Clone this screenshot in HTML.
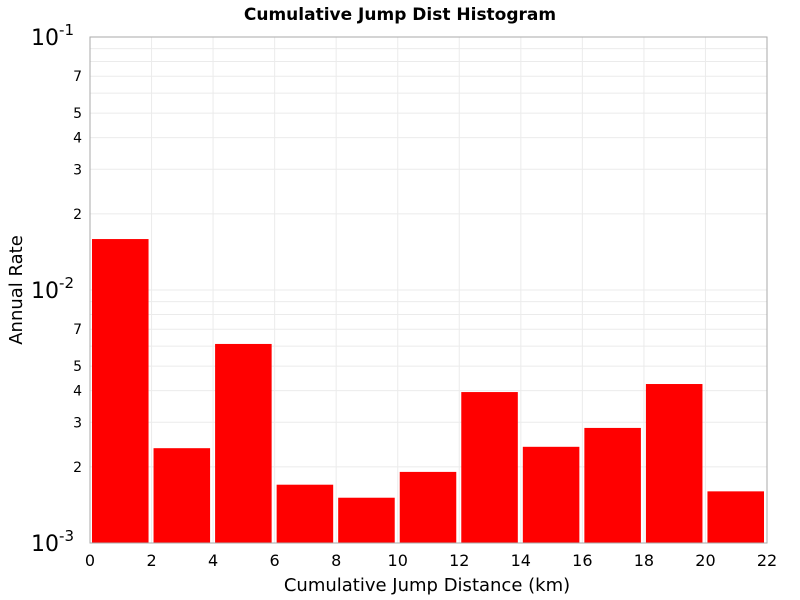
<!DOCTYPE html>
<html><head><meta charset="utf-8"><style>body{margin:0;background:#fff}svg{display:block}</style></head>
<body>
<svg id="chart" width="800" height="600" xmlns="http://www.w3.org/2000/svg" font-family="'DejaVu Sans','Liberation Sans',sans-serif">
<text x="400" y="20" text-anchor="middle" font-size="17" font-weight="bold">Cumulative Jump Dist Histogram</text>
<g id="grid"></g>
<g id="bars"></g>
<rect x="90" y="37" width="677" height="506" fill="none" stroke="#aaa"/>
<g id="axes"></g>
<text x="427" y="591" text-anchor="middle" font-size="18">Cumulative Jump Distance (km)</text>
<text transform="translate(22,290) rotate(-90)" text-anchor="middle" font-size="18">Annual Rate</text>
</svg>
<script>
const binStarts=[0,2,4,6,8,10,12,14,16,18,20];
const binWidth=2;
const rates=[0.0159,0.00237,0.00612,0.0017,0.00151,0.00191,0.00395,0.0024,0.00285,0.00425,0.0016];
const xTicks=[0,2,4,6,8,10,12,14,16,18,20,22];
const yMinorTicks=[2,3,4,5,7];
const NS='http://www.w3.org/2000/svg';
const L=90,R=767,T=37,B=543,xmin=0,xmax=22,ymin=-3,ymax=-1;
const xs=v=>L+(v-xmin)/(xmax-xmin)*(R-L);
const ys=v=>B-(Math.log10(v)-ymin)/(ymax-ymin)*(B-T);
function mk(tag,attrs,parent,text){const e=document.createElementNS(NS,tag);for(const k in attrs)e.setAttribute(k,attrs[k]);if(text!==undefined)e.textContent=text;parent.appendChild(e);return e;}
const grid=document.getElementById('grid'),bars=document.getElementById('bars'),axes=document.getElementById('axes');
xTicks.forEach(t=>{
 const g=mk('line',{x1:xs(t),x2:xs(t),y1:T,y2:B,stroke:'#ebebeb'},grid);
 
 
 const lb=mk('text',{x:xs(t),y:B+23,'text-anchor':'middle','font-size':16},axes,String(t));
 
 
});
[-3,-2].forEach(d=>{
 for(let m=1;m<10;m++){
  const v=m*Math.pow(10,d);
  const gl=mk('line',{x1:L,x2:R,y1:ys(v),y2:ys(v),stroke:'#ebebeb'},grid);
  
  
  if(yMinorTicks.includes(m)){
   const lb=mk('text',{x:L-8,y:ys(v)+5,'text-anchor':'end','font-size':14},axes,String(m));
   
   
  }
 }
});
[-3,-2,-1].forEach(d=>{
 const t=mk('text',{x:L-16,y:ys(Math.pow(10,d))+8,'text-anchor':'end','font-size':22},axes);
 
 
 mk('tspan',{},t,'10');
 mk('tspan',{dy:-10,'font-size':15},t,String(d));
});
binStarts.forEach((s,i)=>{
 const x0=xs(s)+2,x1=xs(s+binWidth)-3;
 const y=ys(rates[i]);
 const r=mk('rect',{x:x0,y:y,width:x1-x0,height:B-y,fill:'#ff0000'},bars);
 
 
});
</script>
</body></html>
